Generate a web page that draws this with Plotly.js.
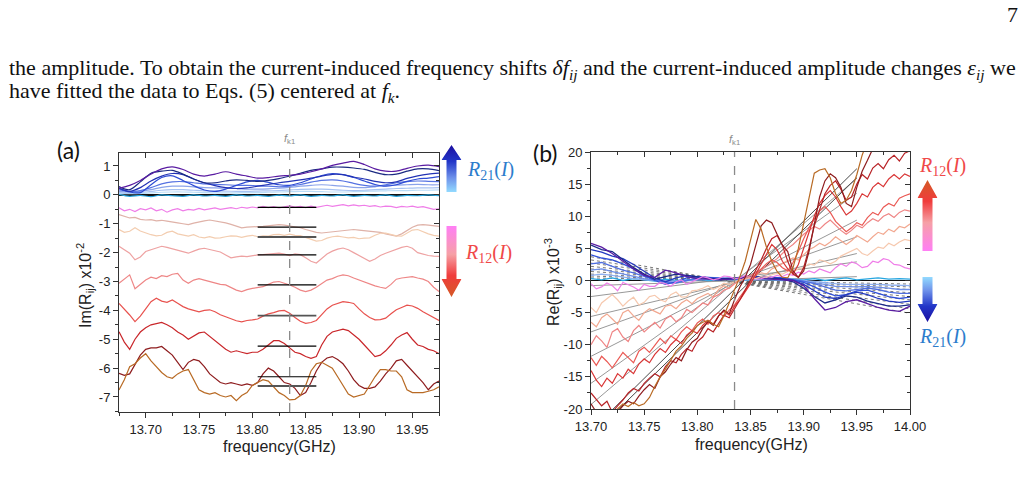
<!DOCTYPE html>
<html><head><meta charset="utf-8">
<script src="https://cdn.plot.ly/plotly-3.0.1.min.js"></script>
<style>html,body{margin:0;padding:0;background:#fff}#chart{width:1028px;height:487px}</style>
</head><body><div id="chart"></div>
<script>
// ---------------- DATA ----------------
const fk1 = 13.835;
// panel (a) frequency grids
const fA_start = 13.675, fA_step = 0.005, fA_n = 61;     // red curves
const fAb_start = 13.675, fAb_step = 0.01, fAb_n = 31;   // blue curves
// panel (b) frequency grids
const fB_start = 13.70, fB_step = 0.005, fB_n = 61;
const fBb_start = 13.70, fBb_step = 0.01, fBb_n = 31;

// (a) Im(R12) curves (x10^-2)
const imMagenta = [-0.45,-0.55,-0.5,-0.58,-0.48,-0.52,-0.45,-0.55,-0.5,-0.6,-0.52,-0.48,-0.55,-0.5,-0.53,-0.47,-0.52,-0.49,-0.45,-0.5,-0.46,-0.44,-0.48,-0.43,-0.46,-0.42,-0.45,-0.4,-0.44,-0.41,-0.45,-0.42,-0.38,-0.42,-0.4,-0.44,-0.39,-0.43,-0.4,-0.36,-0.4,-0.37,-0.34,-0.38,-0.35,-0.38,-0.36,-0.4,-0.37,-0.42,-0.39,-0.4,-0.44,-0.4,-0.42,-0.39,-0.43,-0.41,-0.45,-0.5,-0.48];
const imPinkBrown = [-0.68,-0.75,-0.8,-0.78,-0.85,-0.87,-0.86,-0.9,-0.88,-0.91,-0.93,-0.97,-1.0,-1.03,-0.98,-0.93,-0.9,-0.87,-0.9,-0.94,-0.97,-1.02,-1.08,-1.14,-1.12,-1.1,-1.1,-1.09,-1.07,-1.05,-1.03,-1.05,-1.08,-1.1,-1.14,-1.2,-1.25,-1.3,-1.32,-1.3,-1.27,-1.25,-1.22,-1.2,-1.2,-1.22,-1.24,-1.26,-1.26,-1.3,-1.35,-1.4,-1.43,-1.35,-1.22,-1.12,-1.05,-1.03,-1.05,-1.08,-1.09];
const imPeach = [-1.2,-1.3,-1.26,-1.14,-1.25,-1.32,-1.38,-1.42,-1.4,-1.3,-1.26,-1.35,-1.4,-1.43,-1.38,-1.46,-1.49,-1.45,-1.5,-1.49,-1.45,-1.42,-1.43,-1.47,-1.43,-1.4,-1.45,-1.42,-1.43,-1.38,-1.37,-1.4,-1.36,-1.4,-1.41,-1.47,-1.55,-1.6,-1.58,-1.5,-1.45,-1.43,-1.46,-1.49,-1.47,-1.52,-1.5,-1.49,-1.4,-1.33,-1.32,-1.38,-1.42,-1.43,-1.32,-1.22,-1.2,-1.28,-1.35,-1.4,-1.43];
const imLightSalmon = [-1.78,-1.9,-2.02,-2.25,-2.15,-1.96,-1.9,-1.82,-1.78,-1.82,-1.87,-1.9,-1.95,-2.02,-1.95,-1.88,-1.85,-1.9,-1.95,-1.98,-2.08,-2.18,-2.15,-2.12,-2.14,-2.1,-2.08,-2.07,-2.05,-2.03,-2.02,-2.05,-2.1,-2.04,-2.07,-2.18,-2.3,-2.36,-2.2,-2.05,-1.95,-1.88,-1.84,-1.9,-2.0,-2.1,-2.2,-2.3,-2.22,-2.1,-2.02,-1.95,-1.88,-1.82,-1.78,-1.85,-2.0,-2.05,-2.1,-2.12,-2.13];
const imSalmon = [-3.06,-2.9,-2.77,-3.25,-3.1,-2.95,-2.85,-2.9,-2.8,-2.83,-2.75,-2.72,-2.95,-3.06,-2.95,-2.9,-2.95,-3.0,-3.05,-3.1,-3.12,-3.2,-3.3,-3.35,-3.28,-3.24,-3.2,-3.18,-3.1,-3.02,-3.0,-3.05,-3.12,-3.2,-3.3,-3.35,-3.3,-3.2,-3.08,-2.95,-2.9,-2.82,-2.77,-2.8,-2.88,-2.95,-3.02,-3.1,-3.15,-3.2,-3.24,-3.1,-2.92,-2.88,-2.85,-2.83,-2.88,-2.92,-3.0,-3.2,-3.35];
const imRed4 = [-3.76,-3.95,-4.16,-4.39,-4.2,-3.95,-3.7,-3.58,-3.68,-3.72,-3.64,-3.75,-3.87,-3.95,-4.0,-4.05,-4.0,-3.98,-4.05,-4.15,-4.22,-4.3,-4.36,-4.4,-4.35,-4.33,-4.3,-4.2,-4.12,-4.08,-4.02,-4.0,-4.1,-4.25,-4.38,-4.45,-4.42,-4.35,-4.15,-3.95,-3.82,-3.75,-3.7,-3.72,-3.76,-3.95,-4.12,-4.25,-4.33,-4.32,-4.27,-4.12,-3.98,-3.9,-3.82,-3.85,-3.93,-4.05,-4.15,-4.25,-4.35];
const imRed5 = [-4.74,-5.1,-5.35,-5.0,-4.75,-4.6,-4.5,-4.45,-4.42,-4.5,-4.6,-4.75,-4.85,-5.0,-4.9,-4.78,-4.75,-4.9,-5.05,-5.2,-5.35,-5.45,-5.4,-5.45,-5.5,-5.45,-5.45,-5.35,-5.2,-5.05,-5.05,-5.15,-5.3,-5.45,-5.5,-5.6,-5.66,-5.6,-5.2,-4.9,-4.75,-4.7,-4.65,-4.7,-4.85,-5.0,-5.2,-5.4,-5.6,-5.55,-5.4,-5.2,-4.97,-4.85,-4.77,-5.0,-5.2,-5.25,-5.35,-5.4,-5.5];
const imMaroon = [-6.18,-6.25,-6.2,-5.9,-5.55,-5.35,-5.3,-5.3,-5.25,-5.4,-5.55,-5.8,-6.05,-5.8,-5.7,-5.75,-5.95,-6.2,-6.35,-6.5,-6.55,-6.5,-6.55,-6.6,-6.55,-6.6,-6.5,-6.2,-6.0,-6.1,-6.3,-6.5,-6.55,-6.7,-6.95,-6.85,-6.5,-6.1,-5.8,-5.65,-5.6,-5.7,-5.85,-6.1,-6.4,-6.6,-6.7,-6.7,-6.65,-6.45,-6.2,-6.0,-5.75,-5.7,-5.9,-6.1,-6.3,-6.5,-6.75,-6.55,-6.45];
const imBrown = [-6.76,-6.4,-5.95,-5.85,-5.65,-5.5,-5.75,-5.95,-6.15,-6.3,-6.35,-6.2,-6.1,-6.05,-6.4,-6.75,-6.85,-6.9,-6.85,-6.95,-7.0,-6.95,-7.13,-6.95,-6.85,-6.6,-6.5,-6.4,-6.45,-6.65,-6.85,-6.95,-7.1,-7.08,-6.95,-6.6,-6.1,-5.85,-5.8,-5.9,-6.0,-6.3,-6.6,-6.9,-7.0,-6.95,-6.9,-6.6,-6.3,-6.05,-6.05,-6.1,-6.1,-6.3,-6.75,-6.85,-6.85,-6.85,-6.8,-6.75,-6.65];
// (a) Im(R21) curves
const imCyan = [0.02,-0.05,-0.02,-0.06,0.0,-0.03,-0.05,0.0,-0.04,-0.02,-0.05,0.0,-0.04,-0.02,-0.05,-0.01,-0.04,0.0,-0.05,-0.02,-0.04,0.0,-0.05,-0.02,-0.04,0.0,-0.05,-0.02,-0.03,0.0,-0.03];
const imLight3 = [0.05,0.04,0.05,0.07,0.09,0.1,0.1,0.09,0.08,0.07,0.07,0.07,0.08,0.08,0.09,0.1,0.11,0.12,0.12,0.11,0.1,0.1,0.11,0.12,0.13,0.14,0.15,0.15,0.16,0.16,0.17];
const imLight2 = [0.08,0.06,0.08,0.12,0.16,0.18,0.18,0.16,0.14,0.13,0.13,0.12,0.12,0.13,0.14,0.15,0.17,0.19,0.2,0.2,0.18,0.16,0.15,0.16,0.18,0.2,0.22,0.23,0.24,0.24,0.25];
const imLight1 = [0.12,0.1,0.12,0.18,0.26,0.3,0.3,0.28,0.25,0.24,0.23,0.22,0.2,0.2,0.21,0.23,0.26,0.3,0.33,0.35,0.33,0.3,0.26,0.25,0.28,0.32,0.34,0.35,0.36,0.35,0.35];
const imMedBlue = [0.17,0.12,0.15,0.25,0.38,0.45,0.46,0.42,0.38,0.36,0.35,0.33,0.33,0.31,0.3,0.28,0.3,0.36,0.44,0.5,0.52,0.48,0.4,0.33,0.3,0.35,0.42,0.46,0.48,0.47,0.46];
const imBlue3 = [0.23,0.1,0.08,0.35,0.6,0.66,0.5,0.32,0.17,0.12,0.2,0.33,0.45,0.5,0.43,0.35,0.33,0.42,0.55,0.67,0.74,0.7,0.6,0.48,0.36,0.3,0.35,0.47,0.55,0.58,0.63];
const imNavy2 = [0.23,0.12,0.25,0.48,0.65,0.74,0.7,0.55,0.42,0.32,0.25,0.22,0.24,0.3,0.36,0.42,0.47,0.52,0.58,0.65,0.71,0.7,0.62,0.55,0.47,0.42,0.45,0.57,0.66,0.72,0.75];
const imNavy1 = [0.29,0.18,0.45,0.75,0.82,0.85,0.72,0.55,0.42,0.42,0.48,0.52,0.5,0.47,0.5,0.56,0.65,0.75,0.85,0.9,0.96,0.96,0.93,0.88,0.78,0.7,0.72,0.82,0.9,0.9,0.84];
const imPurple = [0.23,0.33,0.5,0.72,0.9,0.97,0.88,0.72,0.65,0.72,0.8,0.72,0.65,0.58,0.6,0.65,0.68,0.72,0.8,0.9,1.02,1.1,1.16,1.05,0.9,0.82,0.82,0.92,1.0,1.03,0.98];
// (a) fitted levels (black bars)
const fitSpanA = [13.805, 13.86];
const fitLevelsA = [-0.43,-1.12,-1.46,-2.08,-3.12,-4.18,-5.24,-6.30,-6.62];

// (b) Re(R12) curves (x10^-3)
const reMagenta = [-0.5,-1.3,-1.0,-0.4,-0.8,-1.6,-0.3,-0.6,-1.0,-1.5,-0.6,-0.9,-0.9,-0.3,-0.5,-0.9,-0.2,0.1,-0.6,-0.2,0.2,0.6,0.4,0.1,0.3,0.7,0.6,0.3,0.4,0.8,0.5,0.2,0.3,0.6,0.5,0.8,0.6,1.0,0.8,1.3,1.0,1.5,1.2,1.8,1.5,1.2,2.0,2.6,2.2,2.9,2.6,2.0,2.2,3.0,2.8,3.4,3.2,2.5,2.4,2.0,1.8];
const reLightPeach = [-4.2,-5.0,-3.5,-2.8,-2.2,-3.0,-4.0,-3.2,-2.6,-3.8,-3.4,-2.5,-2.3,-3.0,-3.3,-2.2,-1.8,-2.6,-2.5,-1.6,-1.5,-1.2,-0.8,-1.4,-1.0,-0.4,-0.6,-0.2,0.1,0.2,0.4,0.3,0.6,0.5,0.9,1.1,1.0,1.4,1.5,1.8,2.0,2.6,2.4,3.2,3.0,2.6,3.0,3.8,4.2,4.6,5.0,4.2,3.9,4.6,5.2,5.0,5.8,5.4,6.0,6.4,6.2];
const rePeach = [-6.5,-7.2,-5.8,-5.2,-6.0,-6.8,-5.0,-4.6,-5.5,-6.2,-5.0,-4.4,-4.8,-5.2,-4.0,-3.8,-4.4,-3.5,-3.0,-3.6,-2.8,-2.4,-2.0,-2.6,-1.4,-0.8,-1.2,-0.4,0.0,0.3,0.5,0.8,1.2,1.0,1.8,2.2,2.6,3.0,3.5,3.2,4.0,4.8,5.2,5.8,5.4,6.0,6.8,6.2,5.6,6.2,7.0,6.5,6.0,6.8,7.5,7.2,8.0,7.6,8.4,8.2,8.8];
const reSalmon = [-10.0,-8.6,-9.4,-10.4,-8.0,-7.5,-8.8,-9.5,-7.8,-7.0,-8.0,-7.2,-6.5,-7.4,-6.0,-5.5,-6.4,-5.8,-4.5,-5.0,-4.2,-3.5,-3.8,-2.6,-2.2,-1.5,-1.2,-0.5,0.0,0.4,0.8,1.3,1.6,2.2,2.8,3.4,4.2,5.0,5.6,6.4,7.2,7.8,8.4,8.0,8.8,9.4,8.6,7.8,7.2,7.8,8.6,8.2,9.0,9.6,9.2,10.0,10.4,9.8,10.6,11.0,10.8];
const reLightRed = [-12.0,-13.2,-11.8,-12.6,-13.6,-12.4,-11.2,-12.0,-12.8,-11.0,-10.4,-11.2,-10.0,-9.0,-9.8,-8.6,-9.2,-8.0,-7.2,-7.8,-6.6,-6.0,-6.8,-5.5,-5.0,-5.6,-4.6,-3.8,-2.6,-1.4,-0.2,0.8,1.8,2.6,3.2,2.8,2.0,1.5,2.8,4.5,6.5,8.2,9.6,10.8,11.5,10.6,9.2,8.4,7.6,8.2,9.0,8.6,9.8,10.6,10.2,11.4,12.0,11.6,12.8,13.2,13.5];
const reRed = [-14.0,-15.5,-16.5,-15.2,-16.0,-14.5,-15.2,-13.8,-14.5,-13.0,-12.2,-12.8,-11.5,-10.6,-11.2,-10.0,-9.2,-9.8,-8.5,-7.8,-8.2,-7.0,-6.2,-6.8,-5.5,-4.8,-5.4,-4.0,-3.0,-1.8,-0.5,1.0,2.5,4.0,5.6,4.8,3.0,1.8,1.0,2.5,5.0,7.5,10.0,12.0,13.2,14.0,13.0,11.5,10.2,10.8,12.0,13.5,13.0,14.5,15.2,14.6,15.8,16.5,15.8,16.6,16.2];
const reCrimson = [-17.5,-18.5,-19.5,-18.8,-20.5,-19.5,-18.6,-17.5,-16.8,-17.2,-16.0,-15.2,-14.5,-15.0,-13.4,-12.5,-12.8,-11.5,-10.6,-11.0,-9.5,-8.8,-7.5,-8.0,-6.6,-5.4,-5.8,-4.5,-3.0,-1.5,0.0,1.5,3.2,5.0,6.5,7.0,5.5,3.0,1.0,0.5,2.0,5.0,8.5,11.0,13.5,14.8,15.5,14.2,12.5,13.0,15.0,16.5,15.8,17.5,18.2,17.4,18.8,19.5,18.6,19.8,20.2];
const reMaroon = [-19.2,-20.5,-21,-21,-21,-20.5,-19.5,-18.8,-19.2,-18.0,-17.0,-16.2,-16.8,-15.0,-14.2,-13.0,-12.0,-12.5,-10.8,-9.6,-9.0,-7.5,-6.4,-7.0,-5.5,-4.6,-5.2,-3.0,-1.0,0.5,2.5,5.5,8.5,9.4,9.0,7.2,5.5,4.5,1.5,0.5,1.5,4.5,9.0,13.0,15.5,16.6,16.0,14.5,12.0,11.5,14.5,17.0,18.7,20.5,21.5,22,22,22,22,22,22];
const reBrown = [-23,-23,-22.5,-22,-21,-20,-19.2,-19.6,-19.0,-19.5,-19.2,-18.2,-16.5,-15.0,-13.8,-12.5,-11.0,-10.2,-9.0,-8.2,-7.0,-6.5,-6.2,-6.8,-7.2,-5.5,-3.5,-1.5,0.6,3.0,6.5,9.5,8.0,5.2,3.0,1.4,0.5,0.4,2.0,5.0,8.9,13.0,16.7,17.2,17.4,16.0,13.5,12.0,12.5,14.0,16.5,19.5,22,24,24,24,24,24,24,24,24];
// (b) Re(R21) curves
const reCyan = [0.3,0.1,0.4,0.0,0.3,0.1,-0.1,0.2,0.0,0.1,0.2,0.0,0.1,0.2,0.0,0.1,0.2,0.1,0.0,0.2,0.1,0.3,0.0,0.2,0.4,0.1,0.2,0.4,0.2,0.3,0.2];
const reBlue6 = [0.8,1.0,0.8,0.5,0.3,0.1,0.0,-0.1,-0.1,0.0,0.1,0.2,0.2,0.1,0.1,0.2,0.2,0.2,0.2,0.1,0.0,-0.2,-0.3,-0.5,-0.6,-0.6,-0.5,-0.6,-0.7,-0.8,-0.8];
const reBlue5 = [1.6,1.8,1.4,1.0,0.6,0.3,0.0,-0.2,-0.3,0.0,0.2,0.3,0.3,0.2,0.2,0.3,0.4,0.4,0.3,0.1,-0.1,-0.3,-0.6,-0.9,-1.0,-1.0,-0.9,-1.0,-1.2,-1.4,-1.4];
const reBlue4 = [2.6,2.8,2.2,1.6,1.2,0.6,0.1,-0.3,-0.4,0.0,0.4,0.5,0.4,0.3,0.3,0.4,0.5,0.5,0.4,0.2,-0.1,-0.5,-1.0,-1.5,-1.6,-1.4,-1.2,-1.4,-1.8,-2.0,-2.0];
const reBlue3 = [4.0,3.5,3.2,2.6,1.8,0.8,0.0,-0.6,-0.2,0.4,0.6,0.5,0.3,0.2,0.3,0.5,0.6,0.5,0.4,0.1,-0.3,-1.0,-1.8,-2.4,-2.2,-1.6,-1.5,-2.0,-2.5,-2.8,-2.6];
const reNavy2 = [4.8,4.4,3.8,3.4,2.5,1.4,0.4,-0.2,0.4,0.8,0.6,0.4,0.2,0.2,0.4,0.5,0.6,0.5,0.3,0.0,-0.6,-1.6,-2.6,-2.8,-2.2,-1.8,-2.2,-2.8,-3.2,-3.4,-3.2];
const reNavy1 = [5.5,4.8,4.5,3.2,2.0,1.0,0.2,0.6,1.0,0.8,0.5,0.3,0.2,0.3,0.5,0.6,0.5,0.3,0.2,-0.2,-1.2,-2.5,-3.5,-3.0,-2.4,-2.6,-3.2,-3.6,-4.0,-4.0,-3.8];
const rePurple = [5.8,5.2,4.2,3.0,1.8,0.8,0.5,1.6,1.2,0.6,0.3,0.2,0.1,0.2,0.4,0.5,0.3,0.2,0.2,0.0,-0.8,-2.8,-4.6,-4.2,-3.3,-3.0,-3.6,-4.2,-4.6,-4.8,-4.0];
// (b) linear fits: value at start / end of the span
const fitRedSpanB = [13.70, 13.95];
const fitRedStartB = [-0.8,-2.5,-5.6,-8.0,-11.8,-16.0,-19.3,-23.4,-24.2];
const fitRedEndB   = [0.6, 2.9, 4.2, 6.8, 9.4, 13.6, 15.9, 17.4, 16.0];
const fitBlueSpanB = [13.70, 14.00];
const fitBlueStartB = [3.7,3.2,2.7,2.2,1.8,1.4,1.0,0.7,0.4];
const fitBlueEndB   = [-5.1,-4.4,-3.7,-3.0,-2.5,-1.9,-1.4,-1.0,-0.55];

// tick labels
const xTickValsA = [13.70,13.75,13.80,13.85,13.90,13.95];
const xTickTextA = ['13.70','13.75','13.80','13.85','13.90','13.95'];
const yTickValsA = [-7,-6,-5,-4,-3,-2,-1,0,1];
const yTickTextA = ['-7','-6','-5','-4','-3','-2','-1','0','1'];
const xTickValsB = [13.70,13.75,13.80,13.85,13.90,13.95,14.00];
const xTickTextB = ['13.70','13.75','13.80','13.85','13.90','13.95','14.00'];
const yTickValsB = [-20,-15,-10,-5,0,5,10,15,20];
const yTickTextB = ['-20','-15','-10','-5','0','5','10','15','20'];

// ---------------- BUILD ----------------
const grid = (s, d, n) => Array.from({length:n}, (_, i) => +(s + i*d).toFixed(4));
const fA = grid(fA_start, fA_step, fA_n), fAb = grid(fAb_start, fAb_step, fAb_n);
const fB = grid(fB_start, fB_step, fB_n), fBb = grid(fBb_start, fBb_step, fBb_n);

const W = 1028, H = 487;
const px = x => x / W, py = y => 1 - y / H;

const traces = [];
function line(x, y, color, width, xa, ya, extra) {
  traces.push(Object.assign({type:'scatter', mode:'lines', x, y, xaxis:xa, yaxis:ya,
    line:Object.assign({color, width}, extra||{}), hoverinfo:'skip'}));
}

// panel (a) blue
const blueA = [[imCyan,'#27a6e0'],[imLight3,'#b9dcf7'],[imLight2,'#a6c2f2'],[imLight1,'#8aa3ea'],
  [imMedBlue,'#5572e2'],[imBlue3,'#2d4bd4'],[imNavy2,'#2232b4'],[imNavy1,'#1b2a82'],[imPurple,'#5a1ca2']];
blueA.forEach(([v,c]) => line(fAb, v, c, 1.2, 'x', 'y', {shape:'spline', smoothing:0.8}));
// panel (a) red
const redA = [[imMagenta,'#ef7de8'],[imPinkBrown,'#dfb2a8'],[imPeach,'#f3cdb0'],[imLightSalmon,'#eea2a2'],
  [imSalmon,'#ee8686'],[imRed4,'#e8524e'],[imRed5,'#c9262a'],[imMaroon,'#8e1c1e'],[imBrown,'#b86a24']];
redA.forEach(([v,c]) => line(fA, v, c, 1.2, 'x', 'y'));
// (a) fit bars
fitLevelsA.forEach((lv, i) => {
  const gray = (i === 2 || i === 5 || i === 8);
  line(fitSpanA, [lv, lv], gray ? '#555' : '#000', gray ? 1.8 : 1.2, 'x', 'y');
});

// panel (b) fits (behind)
fitBlueStartB.forEach((s, i) => line(fitBlueSpanB, [s, fitBlueEndB[i]], '#555', 0.8, 'x2', 'y2', {dash:'dot'}));
fitRedStartB.forEach((s, i) => line(fitRedSpanB, [s, fitRedEndB[i]], i >= 7 ? '#333' : '#8c8c8c', 0.9, 'x2', 'y2'));
// panel (b) blue
const blueB = [[reCyan,'#27a6e0'],[reBlue6,'#8fb0f0'],[reBlue5,'#6d8ee8'],[reBlue4,'#4f6fe0'],
  [reBlue3,'#3050d8'],[reNavy2,'#2238c0'],[reNavy1,'#1b2a8a'],[rePurple,'#5a1ca2']];
blueB.forEach(([v,c]) => line(fBb, v, c, 1.3, 'x2', 'y2'));
// panel (b) red
const redB = [[reMagenta,'#ef7de8'],[reLightPeach,'#f6c8ae'],[rePeach,'#f2a890'],[reSalmon,'#ef8585'],
  [reLightRed,'#ea5a55'],[reRed,'#d93636'],[reCrimson,'#b82226'],[reMaroon,'#8e1c1e'],[reBrown,'#b86a24']];
redB.forEach(([v,c]) => line(fB, v, c, 1.2, 'x2', 'y2'));
// dummies for mirror axes
traces.push({type:'scatter', mode:'lines', x:[], y:[], xaxis:'x3', yaxis:'y3', hoverinfo:'skip'});
traces.push({type:'scatter', mode:'lines', x:[], y:[], xaxis:'x4', yaxis:'y4', hoverinfo:'skip'});

const tickFont = {family:'Liberation Sans, Arial, sans-serif', size:13, color:'#222'};
const axLine = {showline:true, linecolor:'#333', linewidth:1, showgrid:false, zeroline:false, tickcolor:'#333', tickwidth:1};
const domXA = [px(119), px(439)], domYA = [py(412), py(153)];
const domXB = [px(591), px(910)], domYB = [py(409), py(152)];
const rangeXA = [13.675, 13.975], rangeYA = [-7.52, 1.45];
const rangeXB = [13.70, 14.00], rangeYB = [-20, 20];

const layout = {
  width:W, height:H, margin:{l:0,r:0,t:0,b:0}, paper_bgcolor:'#fff', plot_bgcolor:'rgba(0,0,0,0)',
  showlegend:false, font:{family:'Liberation Sans, Arial, sans-serif', color:'#222'},
  xaxis: Object.assign({domain:domXA, range:rangeXA, anchor:'y', tickmode:'array', tickvals:xTickValsA, ticktext:xTickTextA,
    ticks:'outside', ticklen:5, tickfont:tickFont, minor:{tickmode:'linear', tick0:13.675, dtick:0.05, ticks:'outside', ticklen:3, tickcolor:'#333'}}, axLine),
  yaxis: Object.assign({domain:domYA, range:rangeYA, anchor:'x', tickmode:'array', tickvals:yTickValsA, ticktext:yTickTextA,
    ticks:'outside', ticklen:5, tickfont:tickFont, minor:{tickmode:'linear', tick0:0.5, dtick:1, ticks:'outside', ticklen:3, tickcolor:'#333'}}, axLine,
    {zeroline:true, zerolinecolor:'#111', zerolinewidth:1.6}),
  xaxis3: Object.assign({overlaying:'x', anchor:'y', side:'top', range:rangeXA, tickmode:'array', tickvals:xTickValsA, showticklabels:false,
    ticks:'inside', ticklen:5, minor:{tickmode:'linear', tick0:13.675, dtick:0.05, ticks:'inside', ticklen:3, tickcolor:'#333'}}, axLine),
  yaxis3: Object.assign({overlaying:'y', anchor:'x', side:'right', range:rangeYA, tickmode:'array', tickvals:yTickValsA, showticklabels:false,
    ticks:'inside', ticklen:5, minor:{tickmode:'linear', tick0:0.5, dtick:1, ticks:'inside', ticklen:3, tickcolor:'#333'}}, axLine),
  xaxis2: Object.assign({domain:domXB, range:rangeXB, anchor:'y2', tickmode:'array', tickvals:xTickValsB, ticktext:xTickTextB,
    ticks:'outside', ticklen:5, tickfont:tickFont, minor:{tickmode:'linear', tick0:13.725, dtick:0.05, ticks:'outside', ticklen:3, tickcolor:'#333'}}, axLine),
  yaxis2: Object.assign({domain:domYB, range:rangeYB, anchor:'x2', tickmode:'array', tickvals:yTickValsB, ticktext:yTickTextB,
    ticks:'outside', ticklen:5, tickfont:tickFont, minor:{tickmode:'linear', tick0:2.5, dtick:5, ticks:'outside', ticklen:3, tickcolor:'#333'}}, axLine,
    {zeroline:true, zerolinecolor:'#111', zerolinewidth:1}),
  xaxis4: Object.assign({overlaying:'x2', anchor:'y2', side:'top', range:rangeXB, tickmode:'array', tickvals:xTickValsB, showticklabels:false,
    ticks:'inside', ticklen:5, minor:{tickmode:'linear', tick0:13.725, dtick:0.05, ticks:'inside', ticklen:3, tickcolor:'#333'}}, axLine),
  yaxis4: Object.assign({overlaying:'y2', anchor:'x2', side:'right', range:rangeYB, tickmode:'array', tickvals:yTickValsB, showticklabels:false,
    ticks:'inside', ticklen:5, minor:{tickmode:'linear', tick0:2.5, dtick:5, ticks:'inside', ticklen:3, tickcolor:'#333'}}, axLine),
  shapes: [
    {type:'line', xref:'x', yref:'y domain', x0:fk1, x1:fk1, y0:0, y1:1, line:{color:'#8a8a8a', width:1.3, dash:'dash'}, layer:'above'},
    {type:'line', xref:'x2', yref:'y2 domain', x0:fk1, x1:fk1, y0:0, y1:1, line:{color:'#8a8a8a', width:1.3, dash:'dash'}, layer:'above'}
  ],
  annotations: [],
  images: []
};

function ann(x, y, text, o) {
  layout.annotations.push(Object.assign({xref:'paper', yref:'paper', x:px(x), y:py(y), text, showarrow:false,
    xanchor:'left', yanchor:'middle', font:{family:'Liberation Serif, serif', size:22, color:'#111'}}, o||{}));
}
// page text
ann(7, 69, 'the amplitude. To obtain the current-induced frequency shifts <i>δf</i><sub><i>ij</i></sub> and the current-induced amplitude changes <i>ε</i><sub><i>ij</i></sub> we');
ann(7, 92, 'have fitted the data to Eqs. (5) centered at <i>f</i><sub><i>k</i></sub>.');
ann(1020, 15, '7', {xanchor:'right'});
// panel labels
ann(68, 150, '(a)', {xanchor:'center', font:{family:'Lato, Noto Sans, sans-serif', size:23, color:'#111'}});
ann(545, 153, '(b)', {xanchor:'center', font:{family:'Lato, Noto Sans, sans-serif', size:23, color:'#111'}});
// fk1 labels
layout.annotations.push({xref:'x', yref:'paper', x:fk1, y:py(139), text:'<i>f</i><sub>k1</sub>', showarrow:false,
  font:{family:'Liberation Sans, Arial, sans-serif', size:11, color:'#8a8a8a'}, xanchor:'center', yanchor:'middle'});
layout.annotations.push({xref:'x2', yref:'paper', x:fk1, y:py(140), text:'<i>f</i><sub>k1</sub>', showarrow:false,
  font:{family:'Liberation Sans, Arial, sans-serif', size:11, color:'#8a8a8a'}, xanchor:'center', yanchor:'middle'});
// axis titles
const tf = {family:'Liberation Sans, Arial, sans-serif', size:16, color:'#222'};
ann(279, 446, 'frequency(GHz)', {xanchor:'center', font:tf});
ann(751, 444, 'frequency(GHz)', {xanchor:'center', font:tf});
ann(85, 286, 'Im(R<sub>ij</sub>) x10<sup>-2</sup>', {xanchor:'center', textangle:-90, font:tf});
ann(553, 282, 'Re(R<sub>ij</sub>) x10<sup>-3</sup>', {xanchor:'center', textangle:-90, font:tf});
// arrow labels
const lblBlue = {family:'Liberation Serif, DejaVu Serif, serif', size:20, color:'#2c7ccc'};
const lblRed = {family:'Liberation Serif, DejaVu Serif, serif', size:20, color:'#f04848'};
ann(465, 171, '<i>R</i><sub>21</sub>(<i>I</i>)', {font:lblBlue});
ann(463, 253, '<i>R</i><sub>12</sub>(<i>I</i>)', {font:lblRed});
ann(917, 166, '<i>R</i><sub>12</sub>(<i>I</i>)', {font:lblRed});
ann(917, 337, '<i>R</i><sub>21</sub>(<i>I</i>)', {font:lblBlue});

// gradient arrows as svg images
function arrowSvg(w, h, head, dir, stops) {
  const a = w*0.25, b = w*0.75;
  const d = dir === 'up'
    ? `M${a} ${h} L${a} ${head} L0 ${head} L${w/2} 0 L${w} ${head} L${b} ${head} L${b} ${h} Z`
    : `M${a} 0 L${a} ${h-head} L0 ${h-head} L${w/2} ${h} L${w} ${h-head} L${b} ${h-head} L${b} 0 Z`;
  const st = stops.map(s => `<stop offset='${s[0]}' stop-color='${s[1]}'/>`).join('');
  const svg = `<svg xmlns='http://www.w3.org/2000/svg' width='${w}' height='${h}' viewBox='0 0 ${w} ${h}' preserveAspectRatio='none'><defs><linearGradient id='g' x1='0' y1='0' x2='0' y2='1'>${st}</linearGradient></defs><path d='${d}' fill='url(#g)'/></svg>`;
  return 'data:image/svg+xml;charset=utf-8,' + encodeURIComponent(svg);
}
function img(x, y, w, h, src) {
  layout.images.push({source:src, xref:'paper', yref:'paper', x:px(x), y:py(y), sizex:w/W, sizey:h/H,
    xanchor:'left', yanchor:'top', sizing:'stretch', layer:'above'});
}
const blueUp = [[0,'#1c0fa0'],[0.35,'#2236c8'],[0.7,'#6f92ea'],[1,'#92daff']];
const blueDown = [[0,'#92daff'],[0.3,'#6f92ea'],[0.65,'#2236c8'],[1,'#1c0fa0']];
const redDown = [[0,'#ff7ff5'],[0.4,'#f6a0a6'],[0.7,'#f03c3c'],[1,'#d45a26']];
const redUp = [[0,'#d45a26'],[0.3,'#f03c3c'],[0.6,'#f6a0a6'],[1,'#ff7ff5']];
img(441.5, 145, 20, 47, arrowSvg(20, 47, 15, 'up', blueUp));
img(441.5, 226, 20, 71, arrowSvg(20, 71, 18, 'down', redDown));
img(917.5, 180, 20, 71, arrowSvg(20, 71, 18, 'up', redUp));
img(917.5, 277, 20, 45, arrowSvg(20, 45, 18, 'down', blueDown));

Plotly.newPlot('chart', traces, layout, {displayModeBar:false, staticPlot:true});
</script></body></html>
